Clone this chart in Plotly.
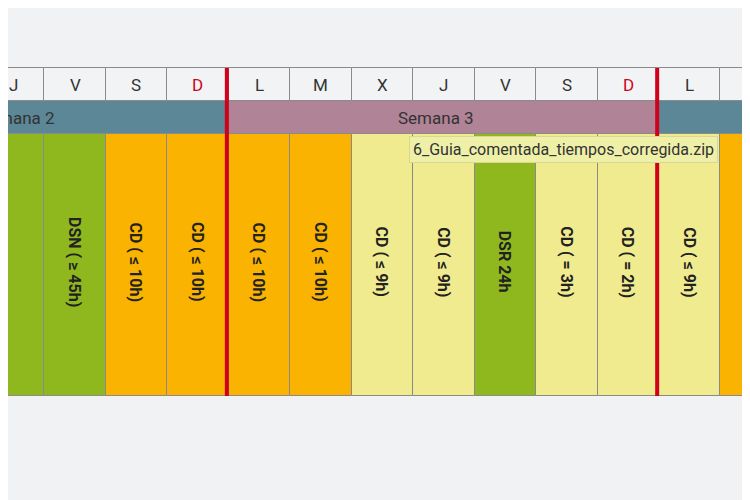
import plotly.graph_objects as go

# day columns visible in the strip
days = ["J", "V", "S", "D", "L", "M", "X", "J", "V", "S", "D", "L", "M"]
labels = ["", "DSN ( ≥ 45h)", "CD ( ≤ 10h)", "CD ( ≤ 10h)", "CD ( ≤ 10h)",
          "CD ( ≤ 10h)", "CD ( ≤ 9h)", "CD ( ≤ 9h)", "DSR 24h", "CD ( = 3h)",
          "CD ( = 2h)", "CD ( ≤ 9h)", "CD ( ≤ 10h)"]
kinds = ["dsn", "dsn", "cd10", "cd10", "cd10", "cd10", "cd9", "cd9", "dsr",
         "cd9", "cd9", "cd9", "cd10"]
weeks = ["Semana 2"] * 4 + ["Semana 3"] * 7 + ["Semana 4"] * 2

kind_colors = {"dsn": "#8fb81f", "dsr": "#8fb81f", "cd10": "#f9b300", "cd9": "#f0eb8e"}
week_colors = {"Semana 2": "#5b8796", "Semana 3": "#b08396", "Semana 4": "#5b8796"}

HEAD_TOP, HEAD_H, WEEK_H, CELL_H = 68, 33, 33, 262
x = list(range(len(days)))

fig = go.Figure()

# header row
fig.add_trace(go.Bar(
    x=x, y=[HEAD_H] * len(days), base=[HEAD_TOP] * len(days), width=1,
    marker=dict(color="#f2f3f5", line=dict(color="#8a8a8a", width=1)),
    hoverinfo="skip"))
# week band
fig.add_trace(go.Bar(
    x=x, y=[WEEK_H] * len(days), base=[HEAD_TOP + HEAD_H] * len(days), width=1,
    marker=dict(color=[week_colors[w] for w in weeks], line=dict(width=0)),
    hoverinfo="skip"))
# day cells
fig.add_trace(go.Bar(
    x=x, y=[CELL_H] * len(days), base=[HEAD_TOP + HEAD_H + WEEK_H] * len(days), width=1,
    marker=dict(color=[kind_colors[k] for k in kinds], line=dict(color="#8a8a8a", width=1)),
    hoverinfo="skip"))

for i, d in enumerate(days):
    fig.add_annotation(x=i, y=HEAD_TOP + HEAD_H / 2, text=d, showarrow=False,
                       font=dict(size=17, color="#d0021b" if d == "D" else "#333"))
    if labels[i]:
        fig.add_annotation(x=i, y=HEAD_TOP + HEAD_H + WEEK_H + 128, text="<b>" + labels[i] + "</b>",
                           textangle=90, showarrow=False, font=dict(size=16, color="#222"))

fig.add_annotation(x=0.71, y=HEAD_TOP + HEAD_H + WEEK_H / 2, text="mana 2", showarrow=False,
                   xanchor="right", font=dict(size=17, color="#333"))
fig.add_annotation(x=6.87, y=HEAD_TOP + HEAD_H + WEEK_H / 2, text="Semana 3", showarrow=False,
                   font=dict(size=17, color="#333"))

# week separators
for i in range(1, len(days)):
    if weeks[i] != weeks[i - 1]:
        fig.add_shape(type="line", x0=i - 0.53, x1=i - 0.53, y0=HEAD_TOP,
                      y1=HEAD_TOP + HEAD_H + WEEK_H + CELL_H,
                      line=dict(color="#d0021b", width=4))

# file tooltip overlay
fig.add_annotation(x=8.95, y=149, text="6_Guia_comentada_tiempos_corregida.zip", showarrow=False,
                   font=dict(size=16, color="#333"), bgcolor="#eef0a8",
                   bordercolor="#d8d890", borderwidth=1, borderpad=3)

fig.update_layout(
    width=742, height=492, margin=dict(l=0, r=0, t=0, b=0),
    paper_bgcolor="#f1f2f4", plot_bgcolor="#f1f2f4", showlegend=False,
    bargap=0, barmode="overlay", font=dict(family="Roboto"),
    xaxis=dict(range=[-0.09, 11.98], visible=False),
    yaxis=dict(range=[500, 8], visible=False))

fig.write_html("out.html")
